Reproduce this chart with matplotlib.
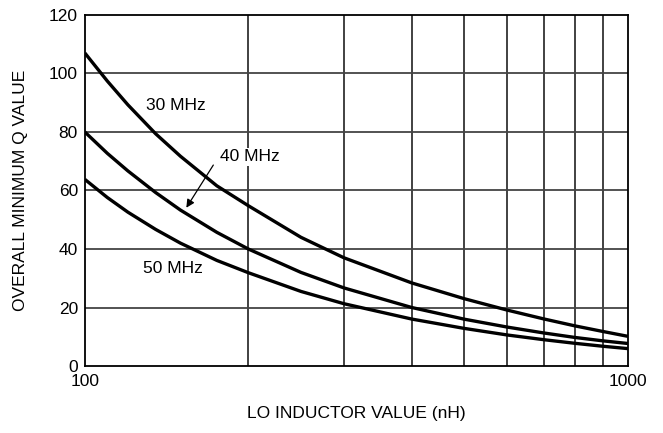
import matplotlib
matplotlib.use("Agg")
import matplotlib.pyplot as plt
from matplotlib.ticker import NullFormatter, FixedLocator

plt.rcParams['font.family'] = ['Liberation Sans', 'DejaVu Sans']

# values (LO inductance in nH, overall min Q)
L_nh = [100, 110, 120, 135, 150, 175, 200, 250, 300, 400, 500, 600, 700, 800, 900, 1000]
q_30mhz = [107, 97.4, 89.3, 79.4, 71.7, 61.6, 54.8, 44.0, 37.0, 28.4, 23.0, 19.1, 16.1, 13.7, 11.8, 10.15]
q_40mhz = [80, 72.7, 66.7, 59.3, 53.3, 45.7, 40.0, 32.0, 26.7, 20.0, 16.0, 13.3, 11.3, 9.75, 8.6, 7.7]
q_50mhz = [63.8, 57.6, 52.6, 46.7, 42.0, 36.1, 31.9, 25.5, 21.3, 16.05, 12.85, 10.6, 9.0, 7.75, 6.75, 5.95]

x_grid = [200, 300, 400, 500, 600, 700, 800, 900]
y_ticks = [0, 20, 40, 60, 80, 100, 120]

fig = plt.figure(figsize=(6.63, 4.33), dpi=100)
ax = fig.add_axes([0.128, 0.1547, 0.819, 0.8107])

ax.set_xscale('log')
ax.set_xlim(100, 1000)
ax.set_ylim(0, 120)

for x in x_grid:
    ax.axvline(x, color='#333333', lw=1.3, zorder=1)
for y in y_ticks[1:-1]:
    ax.axhline(y, color='#444444', lw=1.3, zorder=1)

for q in (q_30mhz, q_40mhz, q_50mhz):
    ax.plot(L_nh, q, color='black', lw=2.4, zorder=3, solid_capstyle='butt',
            solid_joinstyle='round')

ax.xaxis.set_major_locator(FixedLocator([100, 1000]))
ax.xaxis.set_minor_locator(FixedLocator(x_grid))
ax.xaxis.set_minor_formatter(NullFormatter())
ax.set_xticklabels(['100', '1000'])
ax.set_yticks(y_ticks)
ax.tick_params(which='both', length=0, labelsize=12.5, pad=5)
ax.tick_params(axis='x', pad=6)

for s in ax.spines.values():
    s.set_linewidth(1.3)
    s.set_color('black')

box = dict(facecolor='white', edgecolor='none', pad=1)
ax.text(147, 89.2, '30 MHz', fontsize=12.5, ha='center', va='center', zorder=2, bbox=box)
ax.text(201, 71.5, '40 MHz', fontsize=12.5, ha='center', va='center', zorder=2, bbox=box)
ax.text(145, 33.2, '50 MHz', fontsize=12.5, ha='center', va='center', zorder=2, bbox=box)
ax.annotate('', xy=(152.8, 53.3), xytext=(173.5, 69.5),
            arrowprops=dict(arrowstyle='-|>', color='black', lw=0.9, mutation_scale=12),
            zorder=4)

ax.set_xlabel('LO INDUCTOR VALUE (nH)', fontsize=12.5, labelpad=12)
ax.set_ylabel('OVERALL MINIMUM Q VALUE', fontsize=12.5, labelpad=15)

fig.savefig('out.png', dpi=100)
